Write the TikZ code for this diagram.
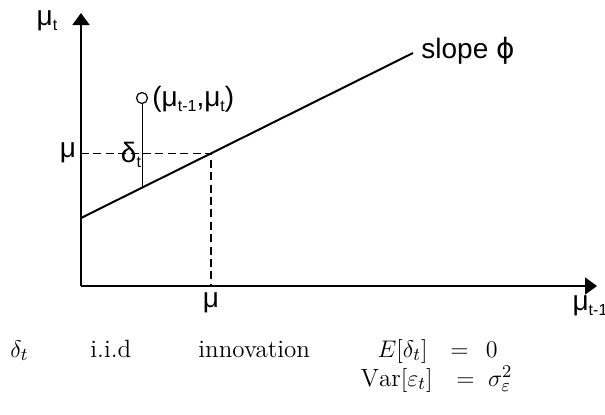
\documentclass[tikz,border=0pt]{standalone}
\usepackage{fontspec}
\setsansfont{Liberation Sans}
\newfontfamily\grfont{DejaVu Sans}
\usetikzlibrary{arrows.meta}
\newcommand{\mulab}[1]{μ\raisebox{-0.35ex}{\footnotesize #1}}
\begin{document}
\begin{tikzpicture}[x=0.5pt, y=-0.5pt,
        every node/.style={inner sep=0pt},
        lab/.style={font=\sffamily\fontsize{14}{16}\selectfont},
        eqtext/.style={font=\fontsize{12.5}{15}\selectfont},
        axis/.style={line width=1pt, -{Triangle[length=6pt, width=8.5pt]}},
        guide/.style={line width=0.9pt, dash pattern=on 4pt off 2.2pt},
        dot/.style={circle, draw, line width=0.6pt, minimum size=5.5pt}
      ]
      \useasboundingbox (0,0) rectangle (605,414);
      % axes
      \coordinate (orig) at (81,286);
      \coordinate (ytop) at (81,13);
      \coordinate (xend) at (597,286);
      \draw[axis] (orig) -- (ytop);
      \draw[axis] (orig) -- (xend);
      \node[lab] (ylab) at (47,21) {\mulab{t}};
      \node[lab] (xlab) at (590,306) {\mulab{t-1}};
      % regression line
      \coordinate (lstart) at (81,218);
      \coordinate (lend) at (413,53);
      \coordinate (mean) at (211,153.4);
      \coordinate (meany) at (81,153.4);
      \coordinate (meanx) at (211,286);
      \draw[line width=1pt] (lstart) -- (lend);
      \node[lab, anchor=west] (slope) at (421,51) {slope {\grfont ϕ}};
      \draw[guide] (meany) -- (mean) -- (meanx);
      \node[lab] (mul) at (68,153) {μ};
      \node[lab] (mub) at (211,303) {μ};
      % observation and innovation
      \node[dot] (obs) at (142,98) {};
      \coordinate (foot) at (142,187.7);
      \draw[line width=0.5pt] (obs) -- (foot);
      \node[lab, anchor=west] (obslab) at (152,99) {(\mulab{t-1},\mulab{t})};
      \node[lab] (dlab) at (131,155) {δ\raisebox{-0.35ex}{\footnotesize t}};
      % bottom text
      \node[eqtext, anchor=base west] (d) at (10,357) {$\delta_t$};
      \node[eqtext, anchor=base west] (iid) at (90,357) {i.i.d};
      \node[eqtext, anchor=base west] (inno) at (198,357) {innovation};
      \node[eqtext, anchor=base east] (expt) at (428,357) {$E[\delta_t]$};
      \node[eqtext, anchor=base west] (zero) at (450,357) {$=\;\,0$};
      \node[eqtext, anchor=base east] (var) at (433,386) {$\mathrm{Var}[\varepsilon_t]$};
      \node[eqtext, anchor=base west] (sig) at (456,386) {$=\;\sigma_{\varepsilon}^{2}$};
    \end{tikzpicture}
\end{document}
